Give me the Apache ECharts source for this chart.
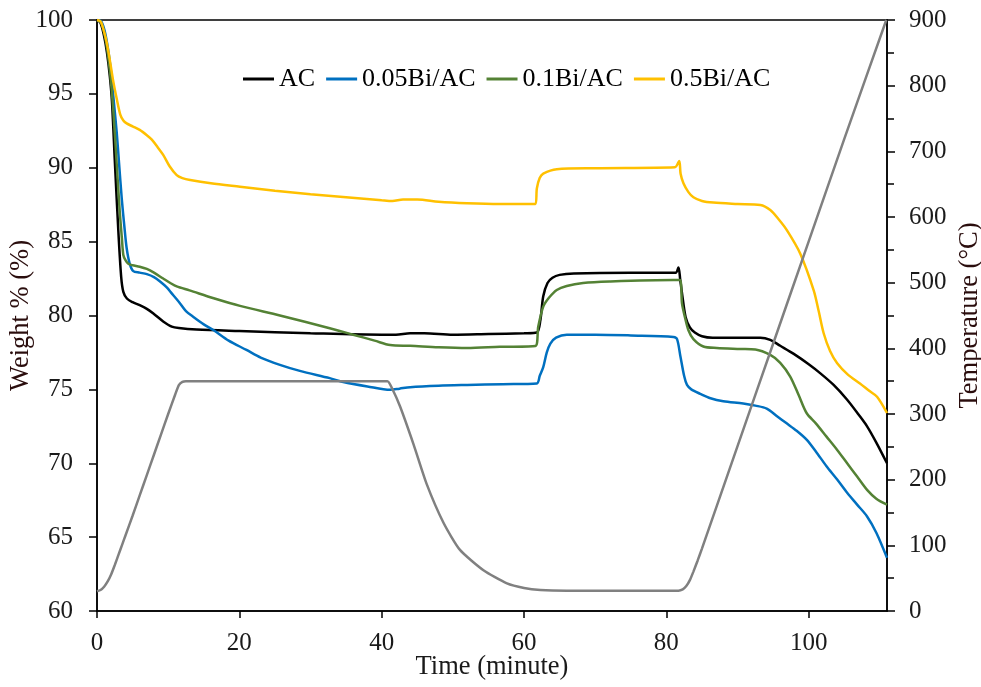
<!DOCTYPE html>
<html>
<head>
<meta charset="utf-8">
<script src="https://cdn.jsdelivr.net/npm/echarts@6/dist/echarts.min.js"></script>
<style>
html,body{margin:0;padding:0;background:#fff;}
#chart{width:981px;height:687px;}
</style>
</head>
<body>
<div id="chart"></div>
<script>
const seriesNames = ['AC', '0.05Bi/AC', '0.1Bi/AC', '0.5Bi/AC'];
const xTicks = [0, 20, 40, 60, 80, 100];

const acTime   = [0, 0.5, 1.0, 1.4, 1.8, 2.1, 2.5, 3.0, 3.4, 3.7, 4.2, 5.0, 6.0, 7.0, 8.0, 9.3, 10.5, 11.5, 14, 20, 30, 40, 42, 44, 46, 50, 55, 60, 61.8, 62.3, 62.7, 63.3, 64, 65, 67, 75, 81.3, 81.7, 81.95, 82.2, 82.7, 83.3, 84, 85, 86.5, 90, 93.2, 94.6, 96, 97.9, 100, 101.6, 103.5, 105.4, 107, 108.2, 109.5, 111];
const acWeight = [100, 99.8, 98.9, 97.8, 96.2, 94.5, 90.5, 85.7, 82.6, 81.6, 81.15, 80.9, 80.7, 80.45, 80.1, 79.6, 79.25, 79.15, 79.05, 78.95, 78.8, 78.7, 78.7, 78.8, 78.8, 78.7, 78.75, 78.8, 78.85, 79.7, 81.3, 82.2, 82.55, 82.75, 82.85, 82.9, 82.9, 83.25, 82.4, 81.5, 79.9, 79.2, 78.85, 78.6, 78.5, 78.5, 78.5, 78.35, 77.95, 77.4, 76.7, 76.1, 75.3, 74.3, 73.3, 72.5, 71.4, 70.0];

const bi005Time   = [0, 0.6, 1.2, 1.86, 2.3, 2.77, 3.1, 3.48, 3.85, 4.17, 4.6, 5.1, 6, 7, 8, 8.86, 9.8, 10.5, 11.2, 11.7, 12.5, 13.55, 15, 16.4, 18.5, 21, 23, 25.7, 28.5, 32.7, 34.6, 38, 41.2, 42.5, 44, 48, 52, 57, 61.8, 62.2, 62.7, 63.2, 63.7, 64.5, 66, 70, 75, 81.0, 81.5, 81.95, 82.5, 82.9, 83.5, 84.75, 86.2, 88, 90.8, 92.5, 94.1, 95.5, 96.9, 98.3, 99.7, 101, 102.5, 104, 105.4, 106.8, 108.2, 109.5, 111];
const bi005Weight = [100, 99.9, 99.0, 96.95, 94.8, 92.4, 90.3, 87.9, 86.0, 84.55, 83.5, 83.0, 82.9, 82.8, 82.6, 82.3, 81.9, 81.5, 81.1, 80.8, 80.3, 79.9, 79.4, 79.0, 78.3, 77.67, 77.15, 76.66, 76.25, 75.76, 75.5, 75.2, 74.97, 75.05, 75.15, 75.25, 75.3, 75.35, 75.4, 75.9, 76.5, 77.5, 78.1, 78.5, 78.7, 78.7, 78.65, 78.55, 78.4, 77.3, 75.9, 75.3, 75.0, 74.7, 74.4, 74.2, 74.05, 73.9, 73.7, 73.2, 72.7, 72.2, 71.6, 70.8, 69.8, 68.9, 68.0, 67.2, 66.4, 65.3, 63.6];

const bi01Time   = [0, 0.6, 1.2, 1.8, 2.3, 2.8, 3.2, 3.5, 3.7, 4.0, 4.4, 5, 6, 7, 8, 9.3, 10.3, 11.2, 13, 16.4, 20.1, 25.7, 32.7, 36, 39, 41.2, 44, 48, 52, 56.6, 61.6, 62.0, 62.7, 63.5, 64.6, 66, 68.3, 72, 81.0, 81.9, 82.2, 82.6, 83.1, 83.8, 85.2, 87.1, 90.4, 92.5, 94.6, 96, 97.4, 98.6, 99.7, 101, 102.5, 104, 105.4, 106.8, 108.2, 109.5, 111];
const bi01Weight = [100, 99.8, 98.7, 96.6, 93.8, 90.0, 87.0, 85.2, 84.1, 83.75, 83.5, 83.4, 83.3, 83.15, 82.9, 82.5, 82.2, 81.97, 81.7, 81.17, 80.65, 80.0, 79.14, 78.7, 78.3, 78.0, 77.95, 77.85, 77.8, 77.88, 77.94, 79.25, 80.6, 81.2, 81.73, 82.0, 82.2, 82.3, 82.4, 82.4, 80.8, 79.9, 79.0, 78.4, 77.9, 77.8, 77.74, 77.7, 77.33, 76.8, 75.87, 74.6, 73.4, 72.7, 71.8, 70.9, 70.0, 69.1, 68.2, 67.6, 67.2];

const bi05Time   = [0, 0.5, 1.0, 1.36, 1.8, 2.3, 2.8, 3.27, 3.7, 4.17, 5, 6, 7, 7.7, 8.5, 9.3, 10.2, 11.2, 12, 13.1, 16, 20.1, 25, 30, 35, 40, 41.5, 43, 45, 48, 52, 56.6, 61.6, 61.8, 62.2, 62.7, 64.6, 70, 81.2, 81.8, 82.0, 82.4, 83.1, 83.8, 85, 86.6, 90, 93.2, 94.6, 95.8, 96.9, 98.8, 100.7, 101.4, 102.1, 103, 104, 105.5, 107.2, 108.5, 109.6, 111];
const bi05Weight = [100, 99.9, 99.2, 98.5, 97.3, 95.8, 94.6, 93.6, 93.2, 93.0, 92.8, 92.56, 92.2, 91.9, 91.4, 90.87, 90.1, 89.5, 89.3, 89.17, 88.95, 88.72, 88.45, 88.2, 88.0, 87.8, 87.75, 87.85, 87.85, 87.7, 87.6, 87.55, 87.55, 88.6, 89.3, 89.6, 89.9, 89.97, 90.03, 90.45, 89.6, 88.95, 88.35, 88.0, 87.75, 87.64, 87.55, 87.48, 87.14, 86.5, 85.8, 84.2, 81.7, 80.3, 78.8, 77.6, 76.77, 76.0, 75.4, 74.9, 74.5, 73.4];

const tempTime  = [0, 0.5, 1, 1.5, 2, 2.5, 3, 3.5, 4, 5, 6, 7, 8, 9, 10, 11, 11.5, 12, 12.5, 16, 20, 25, 30, 35, 40.8, 41.5, 42.6, 44.5, 46.3, 48.7, 51, 54.3, 57.6, 60, 62.3, 66, 70, 75, 81.7, 82.3, 82.8, 83.3, 83.8, 84.4, 85, 90, 95, 100, 105, 110.9];
const tempValue = [30, 32, 37, 45, 56, 70, 85, 100, 115, 145, 176, 207, 238, 269, 300, 330, 344, 349, 350, 350, 350, 350, 350, 350, 350, 338, 311, 253, 194, 134, 93, 62, 42, 35, 32, 31, 31, 31, 31, 33, 38, 47, 60, 77, 95, 251, 407, 563, 719, 900];

function zip(a, b) { return a.map((v, i) => [v, b[i]]); }

const FONT = '"Liberation Serif", "Times New Roman", serif';
const TXT = '#1a1a1a';

const chart = echarts.init(document.getElementById('chart'), null, {renderer: 'canvas'});

function wSeries(name, t, w, color) {
  return {
    name: name, type: 'line', yAxisIndex: 0,
    data: zip(t, w), symbol: 'none', showSymbol: false,
    smooth: 0.3,
    lineStyle: {color: color, width: 2.5},
    itemStyle: {color: color},
    emphasis: {disabled: true}
  };
}

const option = {
  animation: false,
  backgroundColor: '#fff',
  grid: {left: 97, right: 94, top: 20, bottom: 76, outerBoundsMode: 'none', containLabel: false,
    show: true, borderColor: '#000', borderWidth: 1.5, backgroundColor: 'transparent'},
  legend: {
    data: seriesNames,
    left: 243, top: 66, padding: 0,
    icon: 'rect', itemWidth: 31, itemHeight: 3, itemGap: 11,
    textStyle: {fontFamily: FONT, fontSize: 26, color: '#000'}
  },
  xAxis: {
    type: 'value', min: 0, max: 111, interval: 20,
    name: 'Time (minute)', nameLocation: 'middle', nameGap: 43, nameMoveOverlap: false,
    nameTextStyle: {fontFamily: FONT, fontSize: 26.5, color: TXT},
    axisLine: {show: true, lineStyle: {color: '#000', width: 1.5}},
    axisTick: {show: true, inside: false, length: 7, lineStyle: {color: '#000', width: 1.5}},
    axisLabel: {fontFamily: FONT, fontSize: 25, color: TXT, margin: 20, showMaxLabel: false,
      formatter: v => (xTicks.indexOf(v) >= 0 ? String(v) : '')},
    splitLine: {show: false}
  },
  yAxis: [
    {
      type: 'value', min: 60, max: 100, interval: 5, position: 'left',
      name: 'Weight % (%)', nameLocation: 'middle', nameGap: 62, nameRotate: 90, nameMoveOverlap: false,
      nameTextStyle: {fontFamily: FONT, fontSize: 26.5, color: '#2a0d0d'},
      axisLine: {show: true, lineStyle: {color: '#000', width: 1.5}},
      axisTick: {show: true, inside: false, length: 8, lineStyle: {color: '#000', width: 1.5}},
      axisLabel: {fontFamily: FONT, fontSize: 25, color: TXT, margin: 24},
      splitLine: {show: false}
    },
    {
      type: 'value', min: 0, max: 900, interval: 100, position: 'right',
      name: 'Temperature (\u00B0C)', nameLocation: 'middle', nameGap: 70, nameRotate: 90, nameMoveOverlap: false,
      nameTextStyle: {fontFamily: FONT, fontSize: 26.5, color: '#2a0d0d'},
      axisLine: {show: true, lineStyle: {color: '#000', width: 1.5}},
      axisTick: {show: true, inside: false, length: 8, lineStyle: {color: '#000', width: 1.5}},
      minorTick: {show: true, splitNumber: 2, length: 7, lineStyle: {color: '#000', width: 1.5}},
      axisLabel: {fontFamily: FONT, fontSize: 25, color: TXT, margin: 22},
      splitLine: {show: false}
    }
  ],
  series: [
    wSeries(seriesNames[0], acTime, acWeight, '#000000'),
    wSeries(seriesNames[1], bi005Time, bi005Weight, '#0070C0'),
    wSeries(seriesNames[2], bi01Time, bi01Weight, '#548235'),
    wSeries(seriesNames[3], bi05Time, bi05Weight, '#FFC000'),
    {
      name: 'Temperature', type: 'line', yAxisIndex: 1,
      data: zip(tempTime, tempValue), symbol: 'none', showSymbol: false,
      smooth: 0.2,
      lineStyle: {color: '#808080', width: 2.5},
      itemStyle: {color: '#808080'},
      emphasis: {disabled: true}
    }
  ]
};
chart.setOption(option);
</script>
</body>
</html>
